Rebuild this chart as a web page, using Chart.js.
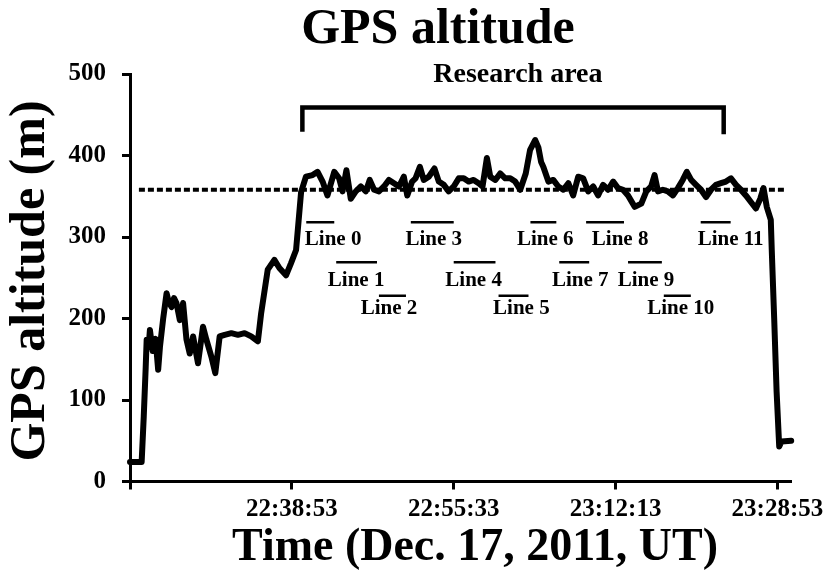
<!DOCTYPE html>
<html>
<head>
<meta charset="utf-8">
<script src="https://cdn.jsdelivr.net/npm/chart.js@4"></script>
<style>
  html, body { margin: 0; padding: 0; background: #fff; }
  canvas { display: block; }
</style>
</head>
<body>
<canvas id="gpsChart" width="829" height="580"></canvas>
<script>
// seconds after 22:22:13 UT
const startClock = 22 * 3600 + 22 * 60 + 13;
const timeTicks = [0, 1000, 2000, 3000, 4000];
const altTicks = [0, 100, 200, 300, 400, 500];

const times = [0, 72, 85, 97, 103, 115, 123, 140, 158, 174, 185, 205, 226, 240, 257, 272, 287, 308, 328, 349,
  369, 390, 420, 451, 472, 503, 527, 554, 585, 626, 667, 708, 749, 790, 810, 851, 892, 923, 964, 995,
  1026, 1057, 1087, 1128, 1159, 1190, 1220, 1262, 1292, 1313, 1337, 1364, 1395, 1426, 1457, 1481, 1508, 1538, 1569, 1600,
  1631, 1662, 1692, 1713, 1743, 1764, 1791, 1815, 1846, 1881, 1908, 1939, 1969, 2000, 2031, 2062, 2092, 2123, 2154, 2178,
  2205, 2226, 2257, 2287, 2318, 2349, 2380, 2411, 2445, 2472, 2503, 2523, 2540, 2554, 2585, 2615, 2646, 2677, 2708, 2738,
  2769, 2800, 2831, 2862, 2892, 2923, 2954, 2985, 3015, 3046, 3077, 3118, 3159, 3190, 3220, 3241, 3262, 3292, 3323, 3354,
  3385, 3415, 3440, 3467, 3497, 3528, 3559, 3590, 3620, 3651, 3682, 3713, 3744, 3774, 3805, 3836, 3867, 3894, 3914, 3934,
  3959, 3965, 3980, 3995, 4011, 4025, 4085];
const altitude = [24, 24, 80, 140, 174, 165, 186, 160, 175, 137, 165, 200, 231, 220, 214, 225, 219, 198, 219, 174,
  157, 178, 145, 190, 174, 153, 133, 178, 180, 182, 180, 182, 178, 172, 206, 260, 272, 262, 253, 268,
  284, 355, 374, 376, 380, 368, 351, 380, 372, 356, 382, 347, 356, 362, 356, 370, 358, 356, 362, 370,
  366, 362, 374, 351, 368, 372, 386, 370, 374, 384, 368, 364, 356, 362, 372, 372, 368, 370, 366, 362,
  397, 374, 370, 378, 372, 372, 368, 358, 378, 407, 419, 410, 392, 386, 368, 370, 362, 358, 366, 351,
  374, 372, 356, 362, 351, 364, 358, 368, 360, 358, 351, 337, 341, 356, 362, 376, 356, 358, 356, 351,
  360, 370, 380, 370, 364, 358, 349, 358, 364, 366, 368, 372, 364, 358, 351, 343, 335, 347, 360, 337,
  321, 284, 200, 110, 43, 49, 50];

const meanAltitude = 358;
const meanSpan = [55, 4050];

const researchStart = 1065;
const researchEnd = 3668;
const researchTop = 459;
const researchFoot = [429, 426];

const lineNames = ['Line 0', 'Line 1', 'Line 2', 'Line 3', 'Line 4', 'Line 5',
  'Line 6', 'Line 7', 'Line 8', 'Line 9', 'Line 10', 'Line 11'];
const lineStart = [1089, 1274, 1538, 1735, 2000, 2277, 2474, 2652, 2818, 3077, 3298, 3526];
const lineEnd = [1262, 1526, 1705, 2000, 2258, 2462, 2634, 2837, 3052, 3286, 3465, 3711];
const lineAlt = [318, 269, 228, 318, 269, 228, 318, 269, 318, 269, 228, 318];
const labelTime = [1255, 1397, 1600, 1877, 2123, 2418, 2566, 2782, 3028, 3188, 3403, 3711];
const labelAlt = [297, 246, 212, 297, 246, 212, 297, 246, 297, 246, 212, 297];

function clock(sec) {
  const s = (startClock + sec) % 86400;
  const pad = n => String(n).padStart(2, '0');
  return pad(Math.floor(s / 3600)) + ':' + pad(Math.floor(s / 60) % 60) + ':' + pad(s % 60);
}

const serif = "'Liberation Serif', 'Times New Roman', serif";
Chart.defaults.font.family = serif;
Chart.defaults.font.weight = 'bold';
Chart.defaults.color = '#000';

const segPoints = [];
lineStart.forEach((s, i) => {
  segPoints.push({ x: s, y: lineAlt[i] }, { x: lineEnd[i], y: lineAlt[i] }, { x: lineEnd[i], y: null });
});

const textPlugin = {
  id: 'texts',
  afterDraw(chart) {
    const ctx = chart.ctx;
    const x = chart.scales.x, y = chart.scales.y;
    ctx.save();
    ctx.fillStyle = '#000';
    ctx.textAlign = 'center';
    ctx.textBaseline = 'middle';

    ctx.font = 'bold 50px ' + serif;
    ctx.fillText('GPS altitude', 438, 30);

    ctx.font = 'bold 46px ' + serif;
    ctx.fillText('Time (Dec. 17, 2011, UT)', 475, 548);

    ctx.save();
    ctx.translate(31, 281);
    ctx.rotate(-Math.PI / 2);
    ctx.font = 'bold 50px ' + serif;
    ctx.fillText('GPS altitude (m)', 0, 0);
    ctx.restore();

    ctx.font = 'bold 28px ' + serif;
    ctx.fillText('Research area', x.getPixelForValue((researchStart + researchEnd) / 2 + 30), y.getPixelForValue(499));

    ctx.font = 'bold 21px ' + serif;
    lineNames.forEach((name, i) => {
      ctx.fillText(name, x.getPixelForValue(labelTime[i]), y.getPixelForValue(labelAlt[i]));
    });
    ctx.restore();
  }
};

new Chart(document.getElementById('gpsChart'), {
  type: 'line',
  data: {
    datasets: [
      {
        label: 'GPS altitude',
        data: times.map((t, i) => ({ x: t, y: altitude[i] })),
        borderColor: '#000',
        borderWidth: 6,
        borderJoinStyle: 'round',
        borderCapStyle: 'round',
        pointRadius: 0,
        tension: 0
      },
      {
        label: 'mean',
        data: meanSpan.map(t => ({ x: t, y: meanAltitude })),
        borderColor: '#000',
        borderWidth: 4,
        borderDash: [6, 3],
        pointRadius: 0
      },
      {
        label: 'research area',
        data: [
          { x: researchStart, y: researchFoot[0] },
          { x: researchStart, y: researchTop },
          { x: researchEnd, y: researchTop },
          { x: researchEnd, y: researchFoot[1] }
        ],
        borderColor: '#000',
        borderWidth: 4.5,
        borderJoinStyle: 'miter',
        pointRadius: 0
      },
      {
        label: 'lines',
        data: segPoints,
        borderColor: '#000',
        borderWidth: 2.5,
        spanGaps: false,
        pointRadius: 0
      }
    ]
  },
  options: {
    responsive: false,
    animation: false,
    clip: false,
    layout: { padding: { top: 74, right: 36, left: 0, bottom: 0 } },
    plugins: {
      legend: { display: false },
      title: { display: false },
      tooltip: { enabled: false }
    },
    scales: {
      x: {
        type: 'linear',
        min: 0,
        max: 4085,
        afterBuildTicks: s => { s.ticks = timeTicks.map(v => ({ value: v })); },
        afterFit: s => { s.height = 98.5; },
        border: { color: '#000', width: 3 },
        grid: { drawOnChartArea: false, drawTicks: true, tickLength: 8, tickWidth: 3, tickColor: '#000' },
        ticks: {
          font: { size: 25, weight: 'bold' },
          padding: 5,
          maxRotation: 0,
          autoSkip: false,
          callback: v => (v === 0 ? '' : clock(v))
        }
      },
      y: {
        min: 0,
        max: 500,
        afterBuildTicks: s => { s.ticks = altTicks.map(v => ({ value: v })); },
        afterFit: s => { s.width = 130; },
        border: { color: '#000', width: 3 },
        grid: { drawOnChartArea: false, drawTicks: true, tickLength: 8, tickWidth: 3, tickColor: '#000' },
        ticks: {
          font: { size: 25, weight: 'bold' },
          padding: 16
        }
      }
    }
  },
  plugins: [textPlugin]
});
</script>
</body>
</html>
